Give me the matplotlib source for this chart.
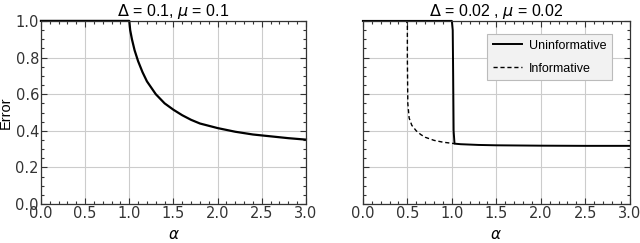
import matplotlib.pyplot as plt
from matplotlib.ticker import MultipleLocator

plt.rcParams['font.family'] = ['Liberation Sans', 'DejaVu Sans']

# panel a: Delta = 0.1, mu = 0.1
alpha_a = [0.0, 0.5, 0.99, 1.0, 1.01, 1.03, 1.06, 1.1, 1.15, 1.2, 1.3, 1.4, 1.5,
           1.6, 1.7, 1.8, 2.0, 2.2, 2.4, 2.6, 2.8, 3.0]
err_a = [1.0, 1.0, 1.0, 1.0, 0.95, 0.9, 0.84, 0.78, 0.72, 0.67, 0.6, 0.55, 0.515,
         0.485, 0.46, 0.44, 0.415, 0.395, 0.38, 0.37, 0.36, 0.352]

# panel b: Delta = 0.02, mu = 0.02
alpha_unin = [0.0, 0.5, 0.98, 1.0, 1.01, 1.015, 1.02, 1.03, 1.1, 1.3, 1.5, 2.0, 2.5, 3.0]
err_unin = [1.0, 1.0, 1.0, 1.0, 0.95, 0.7, 0.4, 0.33, 0.327, 0.323, 0.321, 0.319, 0.318, 0.318]
alpha_inf = [0.0, 0.49, 0.5, 0.5, 0.505, 0.52, 0.55, 0.6, 0.65, 0.7, 0.8, 0.9, 1.0, 1.03]
err_inf = [1.0, 1.0, 0.98, 0.8, 0.55, 0.47, 0.43, 0.4, 0.38, 0.365, 0.348, 0.338, 0.332, 0.33]

fig = plt.figure(figsize=(6.4, 2.43), dpi=100)
ax1 = fig.add_axes([0.064, 0.160, 0.414, 0.754])
ax2 = fig.add_axes([0.567, 0.160, 0.417, 0.754])

tick_font = {'family': 'DejaVu Sans', 'size': 10.5}


def style_axes(ax, show_y):
    ax.set_xlim(0, 3)
    ax.set_ylim(0, 1.0)
    ax.xaxis.set_major_locator(MultipleLocator(0.5))
    ax.xaxis.set_minor_locator(MultipleLocator(0.1))
    ax.yaxis.set_major_locator(MultipleLocator(0.2))
    ax.yaxis.set_minor_locator(MultipleLocator(0.05))
    ax.tick_params(which='both', direction='in', top=True, right=True,
                   pad=1.5, width=0.8, color='#333333')
    ax.tick_params(which='major', length=4)
    ax.tick_params(which='minor', length=2)
    ax.grid(True, which='major', color='#cccccc', lw=0.8)
    ax.set_axisbelow(True)
    ax.xaxis.set_major_formatter(lambda v, p: f"{v:.1f}")
    ax.yaxis.set_major_formatter(lambda v, p: f"{v:.1f}")
    for lab in ax.get_xticklabels() + ax.get_yticklabels():
        lab.set_fontfamily(tick_font['family'])
        lab.set_fontsize(tick_font['size'])
        lab.set_color('#333333')
    if not show_y:
        ax.set_yticklabels([])
    for s in ax.spines.values():
        s.set_color('#333333')
        s.set_linewidth(0.9)
    ax.set_xlabel(r'$\alpha$', fontsize=11, labelpad=5)


ax1.plot(alpha_a, err_a, color='black', lw=1.6, clip_on=False)
style_axes(ax1, True)
ax1.set_ylabel('Error', fontsize=10.5, labelpad=2)
ax1.set_title(r'$\Delta$ = 0.1, $\mu$ = 0.1', fontsize=11.5, pad=2)

ax2.plot(alpha_unin, err_unin, color='black', lw=1.4, label='Uninformative', clip_on=False)
ax2.plot(alpha_inf, err_inf, color='black', lw=1.0, ls=(0, (3, 2)), label='Informative',
         clip_on=False)
style_axes(ax2, False)
ax2.set_title(r'$\Delta$ = 0.02 , $\mu$ = 0.02', fontsize=11.5, pad=2)
leg = ax2.legend(loc='upper right', bbox_to_anchor=(0.934, 0.929), borderaxespad=0,
                 fontsize=9, frameon=True, fancybox=False, edgecolor='#bbbbbb',
                 facecolor='#f2f2f2', framealpha=1, handlelength=2.3,
                 handletextpad=0.6, borderpad=0.45, labelspacing=0.9)
leg.get_frame().set_linewidth(0.8)

fig.savefig('out.png', dpi=100)
